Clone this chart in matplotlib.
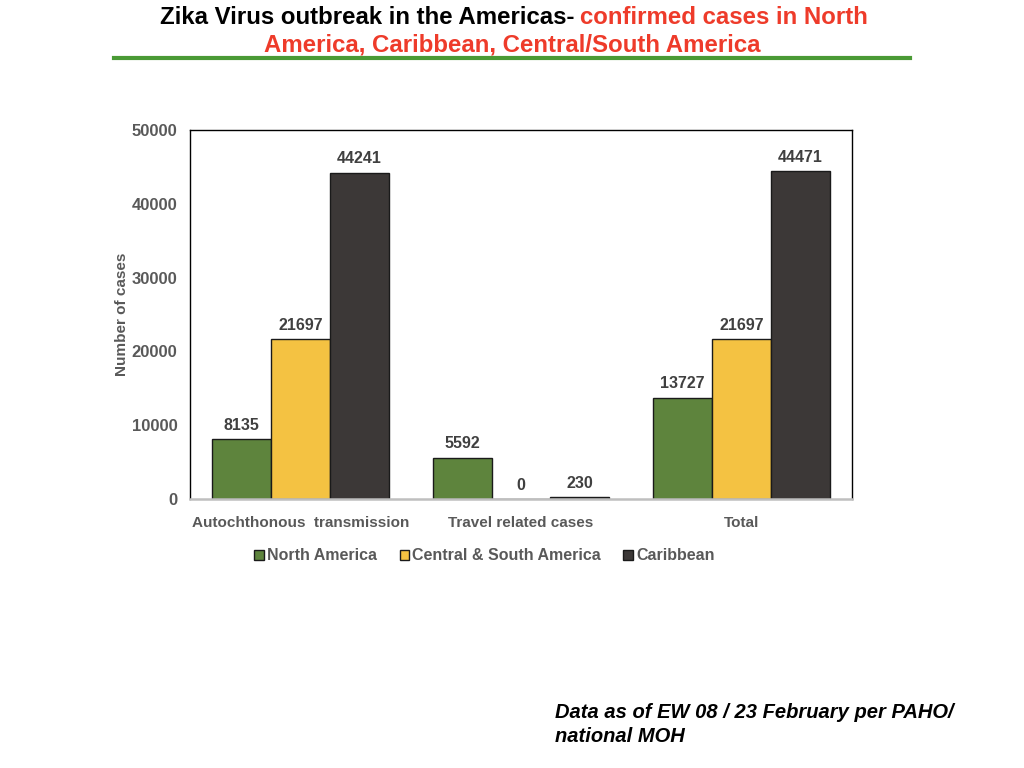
import matplotlib
matplotlib.use("Agg")
import matplotlib.pyplot as plt
import numpy as np

categories = ["Autochthonous  transmission", "Travel related cases", "Total"]
series_names = ["North America", "Central & South America", "Caribbean"]
north_america = [8135, 5592, 13727]
central_south = [21697, 0, 21697]
caribbean = [44241, 230, 44471]
colors = ["#5E843D", "#F4C242", "#3C3837"]
yticks = [0, 10000, 20000, 30000, 40000, 50000]

plt.rcParams['font.family'] = ['Liberation Sans', 'DejaVu Sans']

fig = plt.figure(figsize=(10.24, 7.68), dpi=100)
ax = fig.add_axes([190/1024, 1-499/768, (852-190)/1024, (499-130)/768])

x = np.arange(len(categories))
w = 0.267
data = [north_america, central_south, caribbean]
for i, (vals, c, name) in enumerate(zip(data, colors, series_names)):
    pos = x + (i - 1) * w
    ax.bar(pos, vals, w, color=c, edgecolor="#1a1a1a", linewidth=1.0, label=name, zorder=2)
    for p, v in zip(pos, vals):
        ax.annotate(f"{v}", (p, v), xytext=(0, 4.5), textcoords="offset points",
                    ha="center", va="bottom", fontsize=11.5, fontweight="bold", color="#404040")

ax.set_xlim(-0.5, 2.5)
ax.set_ylim(0, 50000)
ax.set_yticks(yticks)
ax.set_yticklabels([str(t) for t in yticks])
ax.set_xticks(x)
ax.set_xticklabels(categories)
ax.tick_params(axis="both", length=0, labelcolor="#595959")
ax.tick_params(axis="y", pad=9, labelsize=12)
ax.tick_params(axis="x", pad=12, labelsize=11)
for lab in ax.get_xticklabels() + ax.get_yticklabels():
    lab.set_fontweight("bold")
for s in ["left", "top", "right"]:
    ax.spines[s].set_color("black")
    ax.spines[s].set_linewidth(1.0)
ax.spines["bottom"].set_color("#BFBFBF")
ax.spines["bottom"].set_linewidth(1.8)
ax.set_ylabel("Number of cases", fontsize=11, fontweight="bold", color="#595959", labelpad=2)

leg = ax.legend(loc="upper center", bbox_to_anchor=(0.445, -0.095), ncol=3, frameon=False,
                fontsize=11.5, handlelength=0.6, handleheight=0.6, handletextpad=0.2,
                columnspacing=1.4)
for t in leg.get_texts():
    t.set_color("#595959")
    t.set_fontweight("bold")

# Title
fig.text(575/1024, 1-17/768, "Zika Virus outbreak in the Americas-", ha="right", va="center",
         fontsize=17.3, fontweight="bold", color="black")
fig.text(580/1024, 1-17/768, "confirmed cases in North", ha="left", va="center",
         fontsize=17.3, fontweight="bold", color="#EE3B2A")
fig.text(512/1024, 1-45/768, "America, Caribbean, Central/South America", ha="center", va="center",
         fontsize=17.3, fontweight="bold", color="#EE3B2A")
fig.add_artist(plt.Line2D([114/1024, 910/1024], [1-58/768, 1-58/768], color="#4A9A35", linewidth=3))

fig.text(555/1024, 1-712/768, "Data as of EW 08 / 23 February per PAHO/", ha="left", va="center",
         fontsize=14.5, fontweight="bold", style="italic", color="black")
fig.text(555/1024, 1-737/768, "national MOH", ha="left", va="center",
         fontsize=14.5, fontweight="bold", style="italic", color="black")

fig.savefig("out.png", dpi=100)
